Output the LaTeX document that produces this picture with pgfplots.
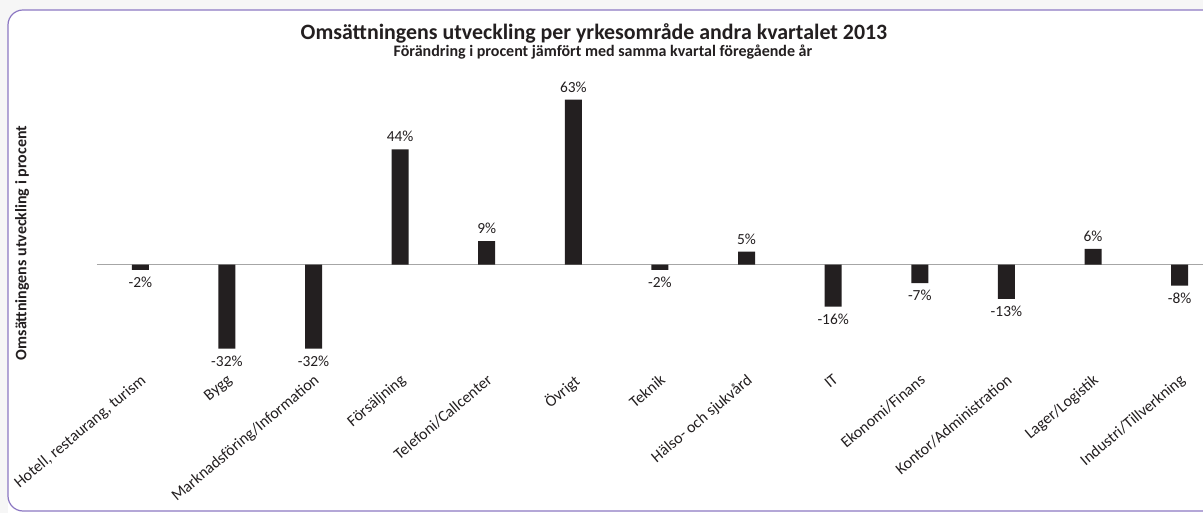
\documentclass[border=0pt]{standalone}
\usepackage{pgfplots}
\pgfplotsset{compat=1.18}
\usepackage{fontspec}
\setmainfont{Carlito}
\definecolor{barc}{HTML}{231F20}
\definecolor{framec}{RGB}{140,120,195}
\definecolor{txt}{HTML}{231F20}
\begin{document}
\begin{tikzpicture}[x=1pt,y=1pt]
% background shading outside frame
\fill[gray!7] (0,0) rectangle (601.5,256.5);
\fill[white, rounded corners=7.5pt] (4,-10) rectangle (620,251.5);
\draw[framec, line width=0.6pt, rounded corners=7.5pt] (620,251.5) -- (4,251.5) -- (4,1) -- (620,1);
\begin{axis}[
  at={(48.5pt,66.5pt)}, anchor=south west,
  scale only axis,
  width=553pt, height=145.4pt,
  xmin=-0.5, xmax=12.27,
  ymin=-44, ymax=67,
  hide y axis,
  axis x line*=bottom,
  x axis line style={draw=none},
  major tick length=0pt,
  xtick={0,...,12},
  xticklabels={{Hotell, restaurang, turism},Bygg,Marknadsföring/Information,Försäljning,Telefoni/Callcenter,Övrigt,Teknik,Hälso- och sjukvård,IT,Ekonomi/Finans,Kontor/Administration,Lager/Logistik,Industri/Tillverkning},
  xticklabel style={rotate=40, anchor=north east, font=\fontsize{8}{9}\selectfont, text=txt, inner sep=1pt, xshift=3pt, yshift=4pt},
  ybar, bar width=8.5pt, bar shift=0pt,
  /pgf/number format/assume math mode=true,
  nodes near coords={\pgfmathprintnumber{\pgfplotspointmeta}\%},
  every node near coord/.append style={font=\fontsize{7.7}{9}\selectfont, text=txt, inner sep=3.5pt},
  clip=false,
]
\draw[gray!70, line width=0.5pt] (axis cs:-0.5,0) -- (axis cs:12.27,0);
\addplot[fill=barc, draw=none] coordinates {
(0,-2) (1,-32) (2,-32) (3,44) (4,9) (5,63) (6,-2) (7,5) (8,-16) (9,-7) (10,-13) (11,6) (12,-8)
};
\end{axis}
\node[font=\bfseries\fontsize{10.95}{12}\selectfont, text=txt] at (297,240) {Omsättningens utveckling per yrkesområde andra kvartalet 2013};
\node[font=\bfseries\fontsize{8}{9}\selectfont, text=txt] at (301.5,230.5) {Förändring i procent jämfört med samma kvartal föregående år};
\node[font=\bfseries\fontsize{8}{9}\selectfont, text=txt, rotate=90] at (11,135) {Omsättningens utveckling i procent};
\pgfresetboundingbox
\useasboundingbox (0,0) rectangle (601.5,256.5);
\end{tikzpicture}
\end{document}
